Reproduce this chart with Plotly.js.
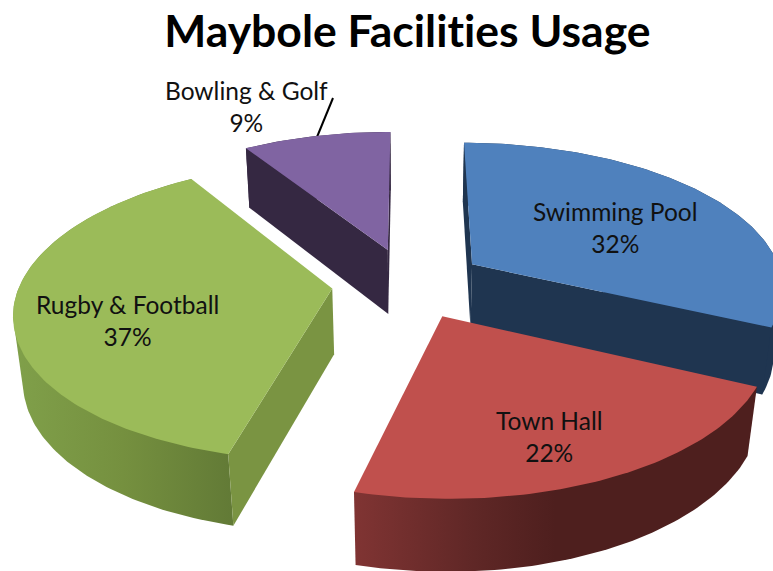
<!DOCTYPE html>
<html>
<head>
<meta charset="utf-8">
<script src="https://cdn.plot.ly/plotly-3.0.1.min.js"></script>
<style>
html,body{margin:0;padding:0;background:#fff}
#chart{width:773px;height:571px}
#chart svg text,#chart svg tspan{font-variant-ligatures:none !important;font-feature-settings:"liga" 0,"clig" 0,"dlig" 0 !important}
</style>
</head>
<body>
<div id="chart"></div>
<script>
// Usage shares
const categories = ["Swimming Pool", "Town Hall", "Rugby & Football", "Bowling & Golf"];
const shares = [32, 22, 37, 9];

// Face colours per slice
const topColors = ["#4F81BD", "#C0504D", "#9BBB59", "#8064A2"];
const cutColors = ["#1F3550", "#4E1F1E", "#7A9442", "#352842"];
const rimStops = [
  [[0, "#1F3550"], [1, "#1F3550"]],
  [[0, "#803433"], [0.3, "#5F2726"], [0.5, "#4E1F1E"], [1, "#4E1F1E"]],
  [[0, "#80A04A"], [0.5, "#75903F"], [1, "#627A36"]],
  [[0, "#352842"], [1, "#352842"]]
];

// Painter's order, back to front
const drawOrder = [3, 0, 2, 1];
// Label centres
const labelX = [615, 549, 127, 246];
const labelY = [227, 436, 320, 106];

// Perspective camera for the tilted pie
const view = {cx: 408.5, cy: 283, rx: 312, ry: 144.6, depth: 67, tilt: 0.148, sink: 0.025, explode: 0.246};

function project(X, Y, Z) {
  const w = 1 + view.tilt * Y + view.sink * Z;
  return [view.cx + view.rx * X / w, view.cy + (-view.ry * Y + view.depth * Z) / w];
}

function rad(d) { return d * Math.PI / 180; }

// Outline of the rim including the tangent silhouette between its two arcs
function convexHull(points) {
  const pts = points.slice().sort(function (a, b) { return a[0] - b[0] || a[1] - b[1]; });
  const cross = function (o, a, b) {
    return (a[0] - o[0]) * (b[1] - o[1]) - (a[1] - o[1]) * (b[0] - o[0]);
  };
  const sweep = function (list) {
    const h = [];
    list.forEach(function (p) {
      while (h.length > 1 && cross(h[h.length - 2], h[h.length - 1], p) <= 0) h.pop();
      h.push(p);
    });
    h.pop();
    return h;
  };
  return sweep(pts).concat(sweep(pts.slice().reverse()));
}

function sliceGeometry(startDeg, endDeg) {
  const mid = rad((startDeg + endDeg) / 2);
  const ox = view.explode * Math.sin(mid);
  const oy = view.explode * Math.cos(mid);
  const rimPoint = function (deg, Z) {
    const a = rad(deg);
    return project(ox + Math.sin(a), oy + Math.cos(a), Z);
  };
  const arc = function (Z) {
    const out = [];
    const n = Math.ceil(endDeg - startDeg);
    for (let i = 0; i <= n; i++) out.push(rimPoint(startDeg + (endDeg - startDeg) * i / n, Z));
    return out;
  };
  const apex = function (Z) { return project(ox, oy, Z); };
  const wall = function (deg) { return [apex(0), rimPoint(deg, 0), rimPoint(deg, 1), apex(1)]; };
  const cuts = [];
  // A cut wall shows only when its open side turns towards the viewer
  if (rimPoint(startDeg, 0)[0] < apex(0)[0]) cuts.push(wall(startDeg));
  if (rimPoint(endDeg, 0)[0] > apex(0)[0]) cuts.push(wall(endDeg));
  return {
    top: [apex(0)].concat(arc(0)),
    rim: convexHull(arc(0).concat(arc(1))),
    cuts: cuts
  };
}

function face(points, style) {
  const closed = points.concat([points[0]]);
  return Object.assign({
    type: "scatter", mode: "lines", hoverinfo: "skip", showlegend: false,
    x: closed.map(function (p) { return p[0]; }),
    y: closed.map(function (p) { return p[1]; }),
    fill: "toself", line: {width: 0}
  }, style);
}

const total = shares.reduce(function (a, b) { return a + b; }, 0);
const geometry = [];
let running = 0;
shares.forEach(function (s) {
  const start = running / total * 360;
  running += s;
  geometry.push(sliceGeometry(start, running / total * 360));
});

const traces = [{
  // Leader line from the Bowling & Golf label to its slice
  type: "scatter", mode: "lines", hoverinfo: "skip", showlegend: false,
  x: [333, 317], y: [98, 137], line: {color: "#000000", width: 2}
}];

drawOrder.forEach(function (i) {
  const g = geometry[i];
  traces.push(face(g.rim, {fillgradient: {type: "horizontal", colorscale: rimStops[i]}}));
  g.cuts.forEach(function (c) { traces.push(face(c, {fillcolor: cutColors[i]})); });
  traces.push(face(g.top, {fillcolor: topColors[i]}));
});

const annotations = categories.map(function (name, i) {
  return {
    x: labelX[i], y: labelY[i], xref: "x", yref: "y", showarrow: false,
    xanchor: "center", yanchor: "middle", align: "center",
    text: name + "<br>" + shares[i] + "%",
    font: {family: "Lato, Carlito, sans-serif", size: 24.5, color: "#111111"}
  };
});

const hidden = {visible: false, fixedrange: true};
const layout = {
  width: 773, height: 571,
  margin: {l: 0, r: 0, t: 0, b: 0},
  paper_bgcolor: "#ffffff", plot_bgcolor: "#ffffff",
  showlegend: false,
  title: {
    text: "<b>Maybole Facilities Usage</b>",
    x: 0.527, xanchor: "center", xref: "paper",
    y: 0.945, yanchor: "middle", yref: "paper",
    font: {family: "Lato, Carlito, sans-serif", size: 44.5, color: "#000000"}
  },
  xaxis: Object.assign({range: [0, 773]}, hidden),
  yaxis: Object.assign({range: [571, 0]}, hidden),
  annotations: annotations
};

Plotly.newPlot("chart", traces, layout, {displayModeBar: false, staticPlot: true});
</script>
</body>
</html>
